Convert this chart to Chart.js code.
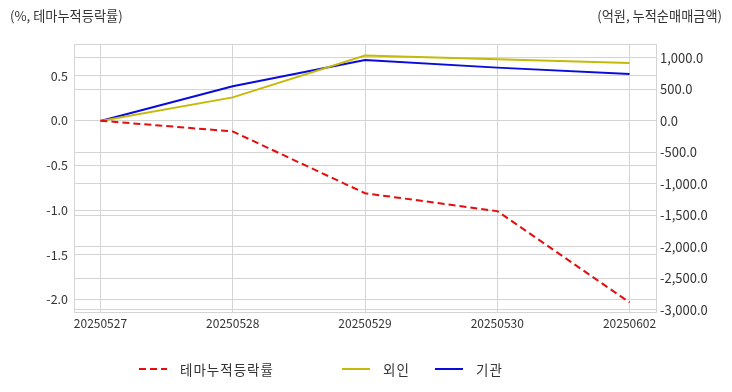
<!DOCTYPE html>
<html>
<head>
<meta charset="utf-8">
<script src="https://cdn.jsdelivr.net/npm/chart.js@4/dist/chart.umd.min.js"></script>
<style>
    html, body { margin: 0; padding: 0; background: #fff; }
    body { font-family: "Noto Sans CJK KR", "Noto Sans", sans-serif; color: #333; }
    #wrap { position: relative; width: 732px; height: 392px; }
    .axis-title { position: absolute; top: 6px; font-size: 13.2px; line-height: 20px; white-space: nowrap; }
    #legend { position: absolute; top: 359px; left: 0; height: 20px; font-size: 13.5px; letter-spacing: 1px; }
    .item { position: absolute; top: 0; display: flex; align-items: center; height: 20px; white-space: nowrap; }
    .item svg { margin-right: 13px; }
</style>
</head>
<body>
<div id="wrap">
    <canvas id="theme-chart" width="732" height="392"></canvas>
    <div class="axis-title" style="left:10px">(%, 테마누적등락률)</div>
    <div class="axis-title" style="right:10px">(억원, 누적순매매금액)</div>
    <div id="legend"></div>
</div>
<script>
// data
const dates = ['20250527', '20250528', '20250529', '20250530', '20250602'];
const themeReturn = [0, -0.12, -0.81, -1.01, -2.03];   // %, left axis
const foreignNet = [0, 375, 1040, 980, 921];            // 억원, right axis
const instNet = [0, 551, 969, 847, 744];                // 억원, right axis
const leftTicks = [-2.0, -1.5, -1.0, -0.5, 0.0, 0.5];
const rightTicks = [-3000, -2500, -2000, -1500, -1000, -500, 0, 500, 1000];

const gridColor = '#d4d4d4';
const fontFamily = '"Noto Sans CJK KR", "Noto Sans", sans-serif';

const toPoints = arr => arr.map((v, i) => ({ x: i, y: v }));

// frame around the plot area (top edge has no axis)
const frame = {
    id: 'frame',
    beforeDatasetsDraw(chart) {
        const { ctx, chartArea: a } = chart;
        ctx.save();
        ctx.strokeStyle = gridColor;
        ctx.lineWidth = 1;
        ctx.strokeRect(a.left + 0.5, a.top + 0.5, a.right - a.left, a.bottom - a.top);
        ctx.restore();
    }
};

document.addEventListener('DOMContentLoaded', () => {
    const canvas = document.getElementById('theme-chart');
    const ctx = canvas.getContext('2d');
    const chart = new Chart(ctx, {
        type: 'line',
        data: {
            datasets: [
                {
                    label: '테마누적등락률',
                    data: toPoints(themeReturn),
                    yAxisID: 'y',
                    borderColor: 'rgb(228, 14, 14)',
                    borderWidth: 2,
                    borderDash: [7, 4],
                    pointRadius: 0,
                    tension: 0
                },
                {
                    label: '외인',
                    data: toPoints(foreignNet),
                    yAxisID: 'y1',
                    borderColor: 'rgb(196, 186, 10)',
                    borderWidth: 2,
                    pointRadius: 0,
                    tension: 0
                },
                {
                    label: '기관',
                    data: toPoints(instNet),
                    yAxisID: 'y1',
                    borderColor: 'rgb(10, 10, 220)',
                    borderWidth: 2,
                    pointRadius: 0,
                    tension: 0
                }
            ]
        },
        options: {
            responsive: false,
            animation: false,
            layout: { padding: { top: 44, left: 0, right: 0, bottom: 0 } },
            plugins: {
                legend: { display: false },
                tooltip: { enabled: false }
            },
            scales: {
                x: {
                    type: 'linear',
                    min: -0.2,
                    max: dates.length - 1 + 0.2,
                    afterBuildTicks: axis => { axis.ticks = dates.map((d, i) => ({ value: i })); },
                    afterFit: axis => { axis.height = 80; },
                    grid: { color: gridColor, drawTicks: false },
                    border: { color: gridColor },
                    ticks: {
                        color: '#333',
                        font: { family: fontFamily, size: 12 },
                        padding: 4,
                        maxRotation: 0,
                        callback: v => dates[v]
                    }
                },
                y: {
                    position: 'left',
                    min: -2.137,
                    max: 0.857,
                    afterBuildTicks: axis => { axis.ticks = leftTicks.map(v => ({ value: v })); },
                    afterFit: axis => { axis.width = 74; },
                    grid: { color: gridColor, drawTicks: false },
                    border: { color: gridColor },
                    ticks: {
                        color: '#333',
                        font: { family: fontFamily, size: 12.5 },
                        padding: 6,
                        callback: v => v.toFixed(1)
                    }
                },
                y1: {
                    position: 'right',
                    min: -3032,
                    max: 1222,
                    afterBuildTicks: axis => { axis.ticks = rightTicks.map(v => ({ value: v })); },
                    afterFit: axis => { axis.width = 76; },
                    grid: { color: gridColor, drawTicks: false },
                    border: { color: gridColor },
                    ticks: {
                        color: '#333',
                        font: { family: fontFamily, size: 13 },
                        padding: 4,
                        callback: v => v.toLocaleString('en-US', { minimumFractionDigits: 1, maximumFractionDigits: 1 })
                    }
                }
            }
        },
        plugins: [frame]
    });

    // html legend built from the datasets
    const legendLeft = [139, 342, 435];
    const legend = document.getElementById('legend');
    chart.data.datasets.forEach((ds, i) => {
        const item = document.createElement('div');
        item.className = 'item';
        item.style.left = legendLeft[i] + 'px';
        const dash = ds.borderDash ? ds.borderDash.join(',') : 'none';
        item.innerHTML =
            '<svg width="28" height="6"><line x1="0" y1="3" x2="28" y2="3" stroke="' + ds.borderColor +
            '" stroke-width="2" stroke-dasharray="' + dash + '"/></svg><span>' + ds.label + '</span>';
        legend.appendChild(item);
    });
});
</script>
</body>
</html>
